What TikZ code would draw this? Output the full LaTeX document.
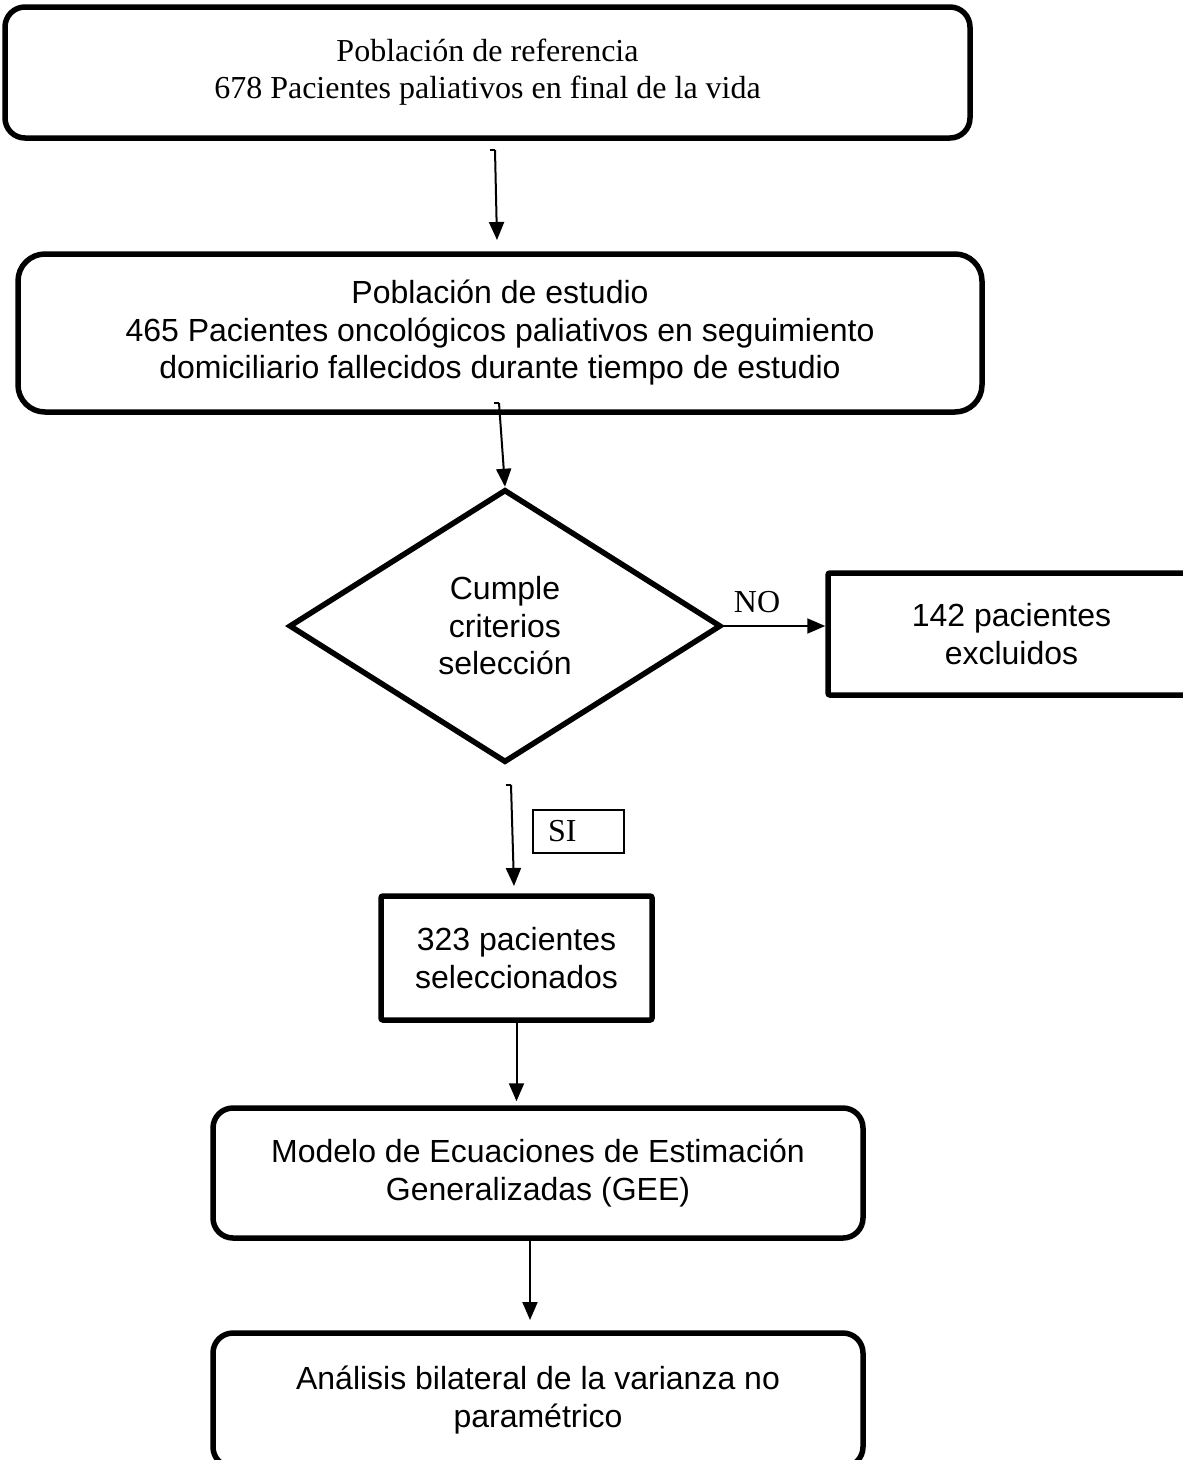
\documentclass[tikz,border=0pt]{standalone}
\usepackage{fontspec}
\setmainfont{Liberation Serif}
\setsansfont{Liberation Sans}
\usetikzlibrary{arrows.meta,shapes.geometric,calc}
\begin{document}
\begin{tikzpicture}[x=1pt,y=-1pt,
  serif32/.style={font=\rmfamily\fontsize{32}{37}\selectfont},
  sans32/.style={font=\sffamily\fontsize{32}{37.5}\selectfont},
  rbox/.style={draw,line width=5.5pt,rounded corners=20pt,align=center,inner sep=0pt,sans32},
  sbox/.style={draw,line width=5.5pt,rounded corners=2pt,align=center,inner sep=0pt,sans32},
  thin/.style={line width=2pt},
  conn/.style={line width=2pt,-{Triangle[length=18pt,width=15pt]}}
]
\useasboundingbox (0,0) rectangle (1183,1460);

\node[rbox,serif32,minimum width=965pt,minimum height=131pt] (ref) at (487.5,72.5)
  {Población de referencia\\678 Pacientes paliativos en final de la vida};
\node[rbox,rounded corners=27pt,minimum width=964pt,minimum height=158pt] (est) at (500,333)
  {Población de estudio\\465 Pacientes oncológicos paliativos en seguimiento\\domiciliario fallecidos durante tiempo de estudio};
\node[draw,diamond,line width=5.5pt,align=center,inner sep=0pt,sans32,minimum width=432pt,minimum height=273pt] (dec) at (505,626)
  {Cumple\\criterios\\selección};
\node[sbox,minimum width=367pt,minimum height=122pt] (exc) at (1011.5,634)
  {142 pacientes\\excluidos};
\node[sbox,minimum width=271pt,minimum height=124pt] (sel) at (516.5,958)
  {323 pacientes\\seleccionados};
\node[rbox,minimum width=650pt,minimum height=130pt] (gee) at (538,1173)
  {Modelo de Ecuaciones de Estimación\\Generalizadas (GEE)};
\node[rbox,minimum width=650pt,minimum height=134pt] (ana) at (538,1400)
  {Análisis bilateral de la varianza no\\paramétrico};

\node[draw,line width=1.8pt,serif32,inner xsep=15pt,inner ysep=0pt,text width=61pt,align=left,minimum height=43pt] (si) at (578.5,831.5) {SI};
\node[serif32,inner sep=0pt] (no) at (757,602) {NO};

\coordinate (a1s) at (490,150);
\coordinate (a1k) at (495,150);
\coordinate (a1e) at (497,240);
\coordinate (a2s) at (494,403);
\coordinate (a2k) at (499,403);
\coordinate (a4s) at (506,785);
\coordinate (a4k) at (511,785);
\coordinate (a4e) at (514,886);
\coordinate (a6s) at (530,1240);
\coordinate (a6e) at (530,1320);

\draw[thin] (a1s) -- (a1k);
\draw[conn] (a1k) -- (a1e);
\draw[thin] (a2s) -- (a2k);
\draw[conn] (a2k) -- (dec.north);
\draw[conn] (dec.east) -- (dec.east -| exc.west);
\draw[thin] (a4s) -- (a4k);
\draw[conn] (a4k) -- (a4e);
\draw[conn,shorten >=4pt] (sel.south) -- (sel.south |- gee.north);
\draw[conn] (gee.south -| a6s) -- (a6e);
\end{tikzpicture}
\end{document}
